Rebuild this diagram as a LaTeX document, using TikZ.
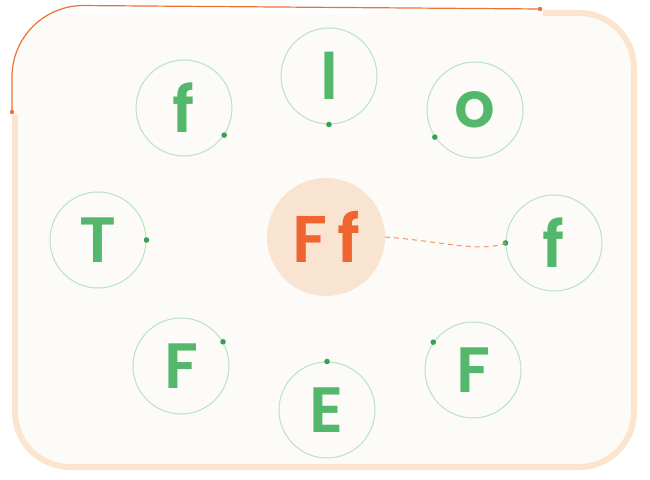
\documentclass[tikz,border=0pt]{standalone}
\usepackage{fontspec}
\setmainfont{Poppins}[BoldFont={Poppins SemiBold}]
\usepackage{tikz}
\usetikzlibrary{calc, positioning}
\definecolor{frameA}{RGB}{251, 229, 206}
\definecolor{paper}{RGB}{253, 251, 247}
\definecolor{trail}{RGB}{238, 112, 48}
\definecolor{ringG}{RGB}{182, 228, 196}
\definecolor{letterG}{RGB}{84, 184, 108}
\definecolor{dotG}{RGB}{58, 160, 88}
\definecolor{coreA}{RGB}{249, 228, 210}
\definecolor{coreT}{RGB}{240, 100, 48}

\begin{document}
\begin{tikzpicture}[x=1pt, y=1pt,
  ring/.style={circle, draw=ringG, line width=1pt, minimum size=96pt, inner sep=0pt,
    text=letterG, font=\fontsize{64}{64}\selectfont\bfseries},
  core/.style={circle, fill=coreA, minimum size=118pt, inner sep=0pt,
    text=coreT, font=\fontsize{66}{66}\selectfont\bfseries},
  pin/.style={fill=dotG}]
  \useasboundingbox (0,0) rectangle (650,479);

  % Frame
  \fill[paper, rounded corners=55pt] (15,12) rectangle (634,466);
  \draw[frameA, line width=6pt, rounded corners=55pt]
    (15,364) -- (15,12) -- (634,12) -- (634,466) -- (543,466);
  \coordinate (s0) at (12,367);
  \coordinate (s1) at (540,470);
  \draw[trail, line width=1.2pt, rounded corners=72pt] (s0) -- (12,474) -- (s1);
  \fill[trail] (s0) circle (2.2) (s1) circle (2.2);

  % Centre
  \node[core] (ff) at (326,242) {F\kern10pt f};

  % Ring of letters
  \node[ring] (f1) at (184,371) {f};
  \node[ring] (l1) at (329,403) {l};
  \node[ring] (o1) at (475,369) {o};
  \node[ring] (t1) at (98,239) {T};
  \node[ring] (f2) at (554,236) {f};
  \node[ring] (F1) at (181,113) {F};
  \node[ring] (e1) at (327,69) {E};
  \node[ring] (F2) at (473,109) {F};

  % Dots on the rings
  \foreach \n/\a in {f1/-34, l1/-90, o1/-146, t1/0, f2/180, F1/30, e1/90, F2/145}
    \fill[pin] (\n.\a) circle (2.8);

  % Link
  \draw[trail!75, line width=1pt, dash pattern=on 5pt off 4pt]
    (ff.east) .. controls (440,238) and (480,226) .. (f2.west);
\end{tikzpicture}
\end{document}
